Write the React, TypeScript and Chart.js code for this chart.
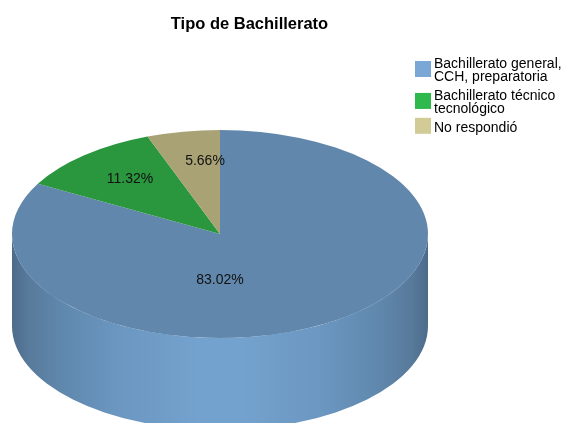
import React, { useEffect, useRef } from "react";
import { Chart, registerables } from "chart.js";

Chart.register(...registerables);

const categories: (string | string[])[] = [
  ["Bachillerato general,", "CCH, preparatoria"],
  ["Bachillerato técnico", "tecnológico"],
  "No respondió",
];
const values = [83.02, 11.32, 5.66];
const topColors = ["#6188AC", "#2A963E", "#A9A274"];
const legendColors = ["#7BA7D6", "#2FB84C", "#D2CB96"];
const wallStops: [number, string][] = [
  [0, "#4C6C8B"],
  [0.04, "#587A9B"],
  [0.12, "#6088AD"],
  [0.26, "#6B97C1"],
  [0.45, "#74A2CE"],
  [0.55, "#74A2CE"],
  [0.74, "#6B97C1"],
  [0.88, "#6088AD"],
  [0.96, "#587A9B"],
  [1, "#4C6C8B"],
];
const titleText = "Tipo de Bachillerato";

const FONT = "'Liberation Sans', Arial, sans-serif";
const DEPTH = 92;
const SQUASH = 0.5;
const labelPositions = [
  [220, 280],
  [130, 179],
  [205, 161],
];
// vertical shift of each legend swatch from its first text line
const swatchShift = [5, 5, -2];

function swatch(color: string, shift: number) {
  const c = document.createElement("canvas");
  c.width = 32;
  c.height = 48;
  const g = c.getContext("2d")!;
  g.fillStyle = color;
  g.fillRect(10, 16 + shift, 16, 16);
  return c;
}

const pie3d = {
  id: "pie3d",
  afterLayout(chart: any) {
    // square pie area, squashed at draw time
    chart.chartArea = { left: 12, right: 428, top: 26, bottom: 442, width: 416, height: 416 };
    const t = chart.titleBlock;
    t.left = 170; t.right = 329; t.width = 159;
    t.top = 15; t.bottom = 35;
    const l = chart.legend;
    l.left = 410; l.right = 563;
    l.top = 52; l.bottom = 52 + l.height + 20;
  },
  beforeDatasetsDraw(chart: any) {
    const { ctx } = chart;
    const arcs = chart.getDatasetMeta(0).data;
    ctx.save();
    arcs.forEach((arc: any) => {
      const { x, y, startAngle, endAngle, outerRadius: r } = arc.getProps(
        ["x", "y", "startAngle", "endAngle", "outerRadius"], true);
      const ry = r * SQUASH;
      // front half of the ellipse only: canvas angles 0..PI, tested in both wraps
      for (const k of [0, 2 * Math.PI]) {
        const a0 = Math.max(startAngle - k, 0);
        const a1 = Math.min(endAngle - k, Math.PI);
        if (a1 <= a0) continue;
        const g = ctx.createLinearGradient(x - r, 0, x + r, 0);
        wallStops.forEach(([p, c]) => g.addColorStop(p, c));
        ctx.beginPath();
        ctx.ellipse(x, y, r, ry, 0, a0, a1);
        ctx.ellipse(x, y + DEPTH, r, ry, 0, a1, a0, true);
        ctx.closePath();
        ctx.fillStyle = g;
        ctx.fill();
      }
    });
    ctx.restore();
    const cy = arcs[0].y;
    ctx.save();
    ctx.translate(0, cy);
    ctx.scale(1, SQUASH);
    ctx.translate(0, -cy);
  },
  afterDatasetsDraw(chart: any) {
    const { ctx } = chart;
    ctx.restore();
    ctx.save();
    ctx.font = `14px ${FONT}`;
    ctx.fillStyle = "#111";
    ctx.textAlign = "center";
    ctx.textBaseline = "middle";
    values.forEach((v, i) => {
      ctx.fillText(`${v.toFixed(2)}%`, labelPositions[i][0], labelPositions[i][1]);
    });
    ctx.restore();
  },
};

export default function App() {
  const ref = useRef<HTMLCanvasElement>(null);
  useEffect(() => {
    document.body.style.margin = "0";
    const chart = new Chart(ref.current!, {
      type: "pie",
      data: {
        labels: categories as any,
        datasets: [{
          data: values,
          backgroundColor: topColors,
          borderWidth: 0,
          clip: false as any,
        }],
      },
      options: {
        responsive: false,
        animation: false,
        plugins: {
          title: {
            display: true,
            text: titleText,
            color: "#000",
            font: { family: FONT, size: 16.5, weight: "bold" },
            padding: 0,
          },
          legend: {
            position: "right",
            align: "start",
            labels: {
              color: "#000",
              font: { family: FONT, size: 14, lineHeight: 0.96 },
              usePointStyle: true,
              boxWidth: 12,
              boxHeight: 12,
              pointStyleWidth: 12,
              padding: 5,
              generateLabels: () =>
                categories.map((c, i) => ({
                  text: c as any,
                  fillStyle: legendColors[i],
                  strokeStyle: legendColors[i],
                  lineWidth: 0,
                  pointStyle: swatch(legendColors[i], swatchShift[i]),
                  index: i,
                  datasetIndex: 0,
                })),
            },
          },
          tooltip: { enabled: false },
        },
      },
      plugins: [pie3d],
    });
    return () => chart.destroy();
  }, []);
  return <canvas ref={ref} width={563} height={423} style={{ display: "block" }} />;
}
